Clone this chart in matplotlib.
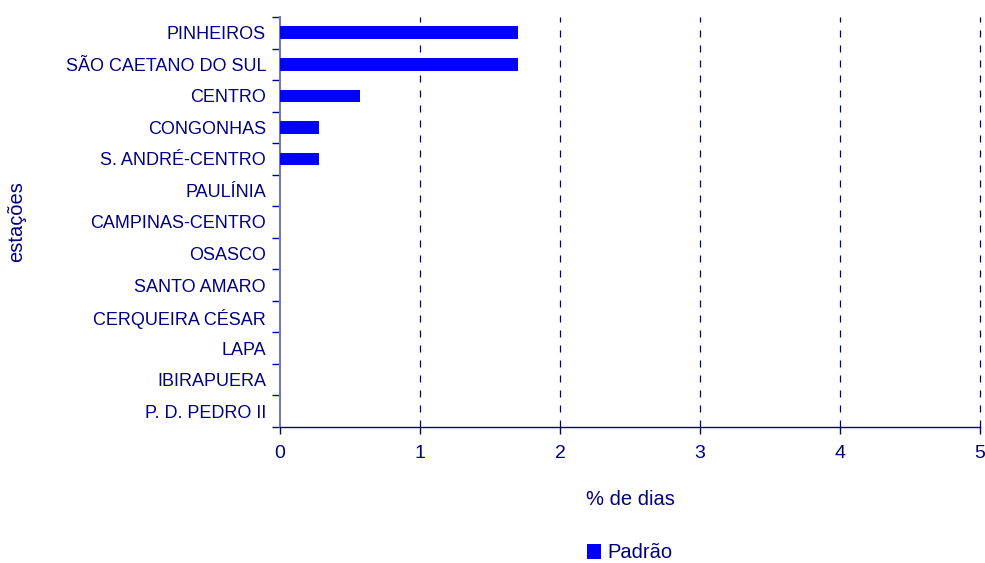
import numpy as np
import matplotlib.pyplot as plt
from matplotlib.ticker import FixedLocator

plt.rcParams['font.family'] = ['Liberation Sans', 'DejaVu Sans']

# estações (de cima para baixo) e % de dias acima do padrão
estacoes = ["PINHEIROS", "SÃO CAETANO DO SUL", "CENTRO", "CONGONHAS",
            "S. ANDRÉ-CENTRO", "PAULÍNIA", "CAMPINAS-CENTRO", "OSASCO",
            "SANTO AMARO", "CERQUEIRA CÉSAR", "LAPA", "IBIRAPUERA",
            "P. D. PEDRO II"]
pct_dias = [1.70, 1.70, 0.57, 0.28, 0.28, 0, 0, 0, 0, 0, 0, 0, 0]
xticks = [0, 1, 2, 3, 4, 5]

navy = "#000080"
azul = "#0000FF"

fig = plt.figure(figsize=(9.85, 5.63), dpi=100)
ax = fig.add_axes([280 / 985, 1 - 427 / 563, 700 / 985, 410 / 563])

n = len(estacoes)
y = np.arange(n)[::-1]
ax.barh(y, pct_dias, height=0.4, color=azul, label="Padrão", zorder=3)

ax.set_xlim(0, 5)
ax.set_ylim(-0.5, n - 0.5)
ax.set_xticks(xticks)
ax.set_yticks(y)
ax.set_yticklabels(estacoes)
ax.yaxis.set_minor_locator(FixedLocator(np.arange(n + 1) - 0.5))

# linhas de grade tracejadas
for xv in xticks[1:]:
    ax.axvline(xv, color=navy, linestyle=(0, (5.6, 6.4)), linewidth=0.9,
               zorder=1, clip_on=False)

for s in ["top", "right"]:
    ax.spines[s].set_visible(False)
ax.spines["left"].set_color("#7777bb")
ax.spines["left"].set_linewidth(1.5)
ax.spines["bottom"].set_color(navy)
ax.spines["bottom"].set_linewidth(1.0)

ax.tick_params(axis="y", which="major", length=0, pad=10, labelsize=13,
               labelcolor=navy)
ax.tick_params(axis="y", which="minor", length=6, width=1, color=navy)
ax.tick_params(axis="x", length=5, width=1, color=navy, pad=8,
               labelsize=14, labelcolor=navy)

ax.set_xlabel("% de dias", fontsize=14.5, color=navy, labelpad=20)
ax.set_ylabel("estações", fontsize=14.5, color=navy)
ax.yaxis.set_label_coords(-254 / 700, 0.5)

fig.legend(loc="center", bbox_to_anchor=(630 / 985, 1 - 553 / 563),
           frameon=False, fontsize=14.5, labelcolor=navy,
           handlelength=0.7, handleheight=0.7, handletextpad=0.3)

fig.savefig("out.png", dpi=100)
